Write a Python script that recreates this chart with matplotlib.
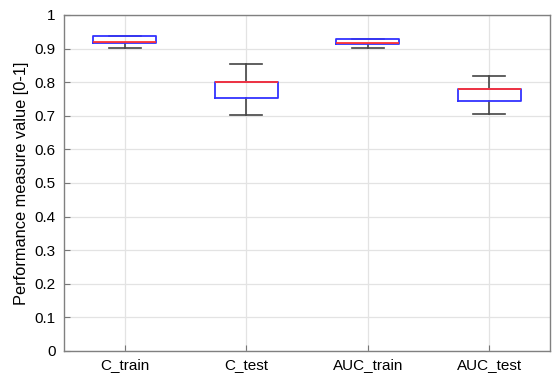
import matplotlib
matplotlib.use("Agg")
import matplotlib.pyplot as plt

categories = ["C_train", "C_test", "AUC_train", "AUC_test"]
whislo = [0.902, 0.701, 0.901, 0.705]
q1 = [0.917, 0.752, 0.914, 0.743]
med = [0.919, 0.800, 0.916, 0.781]
q3 = [0.937, 0.800, 0.930, 0.781]
whishi = [0.937, 0.853, 0.930, 0.819]

plt.rcParams['font.family'] = ['Liberation Sans', 'DejaVu Sans']

fig = plt.figure(figsize=(5.55, 3.75), dpi=100)
ax = fig.add_axes([0.1153, 0.064, 0.8757, 0.896])

stats = []
for i, c in enumerate(categories):
    stats.append(dict(label=c, whislo=whislo[i], q1=q1[i], med=med[i],
                      q3=q3[i], whishi=whishi[i], fliers=[]))

ax.bxp(stats, positions=range(1, len(categories) + 1), widths=0.52,
       showfliers=False,
       boxprops=dict(color='#3333ff', linewidth=1.3, zorder=4),
       medianprops=dict(color='#ff3333', linewidth=1.3, zorder=5),
       whiskerprops=dict(color='#444444', linewidth=1.2, zorder=3),
       capprops=dict(color='#444444', linewidth=1.2, zorder=3),
       capwidths=0.26)

ax.set_xlim(0.5, 4.5)
ax.set_ylim(0, 1)
ax.set_yticks([i / 10 for i in range(11)])
ax.set_yticklabels(['0', '0.1', '0.2', '0.3', '0.4', '0.5', '0.6', '0.7', '0.8', '0.9', '1'])
ax.set_xticks(range(1, 5))
ax.set_xticklabels(categories)
ax.grid(True, color='#e3e3e3', linewidth=0.9, zorder=0)
ax.set_axisbelow(True)
ax.tick_params(direction='in', length=4, color='#777777', labelsize=11)
ax.tick_params(axis='x', pad=5)
ax.tick_params(axis='y', pad=6)
for s in ax.spines.values():
    s.set_color('#808080')
    s.set_linewidth(1.0)
ax.set_ylabel('Performance measure value [0-1]', fontsize=11.8, labelpad=4)

fig.savefig('out.png', dpi=100)
